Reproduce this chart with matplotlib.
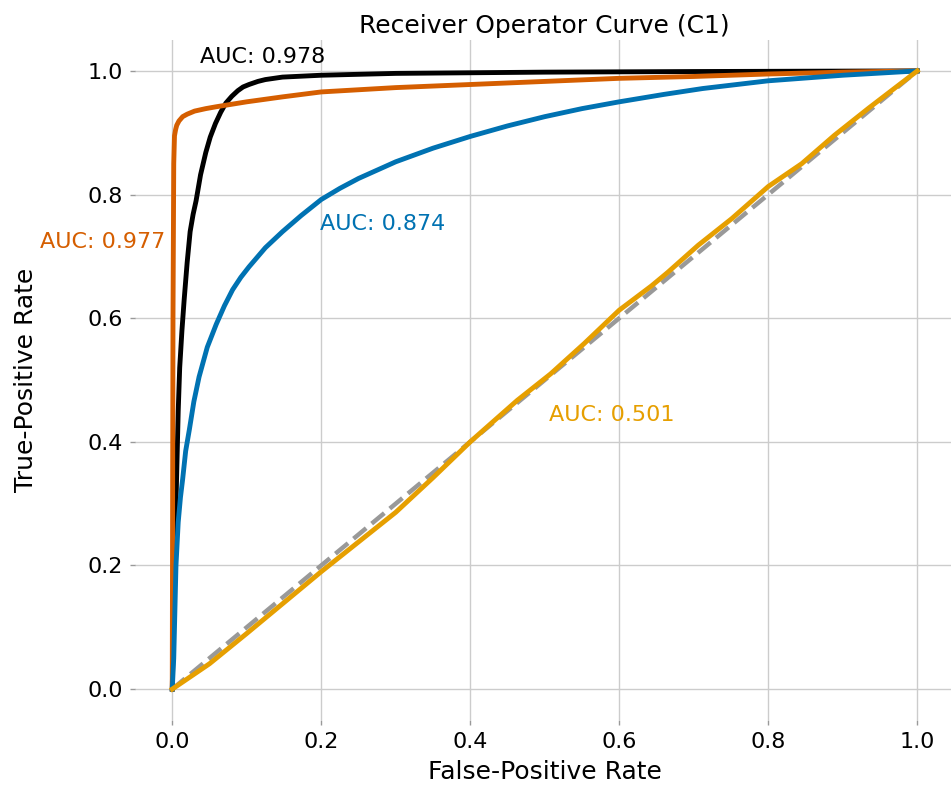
import matplotlib
matplotlib.use("Agg")
import matplotlib.pyplot as plt

plt.rcParams['font.family'] = ['DejaVu Sans']

# ROC curve data (FPR, TPR)
black_fpr = [0, 0.003, 0.005, 0.008, 0.010, 0.013, 0.016, 0.020, 0.024, 0.028, 0.032, 0.038,
             0.045, 0.051, 0.058, 0.065, 0.072, 0.080, 0.088, 0.095, 0.103, 0.115, 0.125,
             0.148, 0.2, 0.3, 0.4, 0.5, 0.7, 1.0]
black_tpr = [0, 0.2, 0.3, 0.45, 0.52, 0.58, 0.63, 0.69, 0.74, 0.768, 0.79, 0.832,
             0.868, 0.893, 0.915, 0.933, 0.948, 0.959, 0.968, 0.974, 0.978, 0.983, 0.986,
             0.99, 0.993, 0.996, 0.997, 0.998, 0.999, 1.0]

orange_fpr = [0, 0.0005, 0.001, 0.002, 0.003, 0.0045, 0.006, 0.009, 0.014, 0.02, 0.03, 0.045,
              0.059, 0.1, 0.148, 0.2, 0.3, 0.4, 0.5, 0.6, 0.7, 0.8, 0.9, 1.0]
orange_tpr = [0, 0.3, 0.6, 0.85, 0.895, 0.905, 0.912, 0.919, 0.926, 0.93, 0.935, 0.939,
              0.942, 0.95, 0.958, 0.966, 0.973, 0.978, 0.983, 0.988, 0.991, 0.995, 0.998, 1.0]

blue_fpr = [0, 0.002, 0.004, 0.005, 0.008, 0.011, 0.014, 0.018, 0.023, 0.029, 0.036, 0.047,
            0.059, 0.07, 0.081, 0.092, 0.103, 0.125, 0.148, 0.173, 0.2, 0.225, 0.25, 0.3,
            0.35, 0.4, 0.45, 0.5, 0.55, 0.6, 0.66, 0.712, 0.8, 0.9, 1.0]
blue_tpr = [0, 0.05, 0.15, 0.2, 0.27, 0.31, 0.34, 0.385, 0.42, 0.465, 0.505, 0.553,
            0.59, 0.62, 0.646, 0.666, 0.683, 0.714, 0.74, 0.766, 0.792, 0.81, 0.826, 0.853,
            0.875, 0.894, 0.911, 0.926, 0.939, 0.95, 0.962, 0.9715, 0.984, 0.993, 1.0]

yellow_fpr = [0, 0.05, 0.1, 0.15, 0.2, 0.25, 0.3, 0.35, 0.4, 0.463, 0.508, 0.553, 0.6, 0.643,
              0.665, 0.706, 0.751, 0.8, 0.845, 0.889, 0.935, 1.0]
yellow_tpr = [0, 0.041, 0.09, 0.14, 0.19, 0.238, 0.286, 0.342, 0.4, 0.467, 0.51, 0.559, 0.613,
              0.652, 0.674, 0.718, 0.761, 0.813, 0.85, 0.896, 0.94, 1.0]

auc_labels = ["AUC: 0.978", "AUC: 0.977", "AUC: 0.874", "AUC: 0.501"]
ticks = [0.0, 0.2, 0.4, 0.6, 0.8, 1.0]
tick_labels = ["0.0", "0.2", "0.4", "0.6", "0.8", "1.0"]

c_black = "#000000"
c_orange = "#D55E00"
c_blue = "#0072B2"
c_yellow = "#E69F00"

fig = plt.figure(figsize=(9.51, 7.87), dpi=100)
ax = fig.add_axes([135 / 951, 67 / 787, (954.5 - 135) / 951, 680 / 787])

ax.plot([0, 1], [0, 1], linestyle='--', color='#999999', lw=3.2, zorder=2)
ax.plot(black_fpr, black_tpr, color=c_black, lw=3.5, zorder=3, solid_joinstyle='round')
ax.plot(orange_fpr, orange_tpr, color=c_orange, lw=3.5, zorder=4, solid_joinstyle='round')
ax.plot(blue_fpr, blue_tpr, color=c_blue, lw=3.5, zorder=5, solid_joinstyle='round')
ax.plot(yellow_fpr, yellow_tpr, color=c_yellow, lw=3.5, zorder=6, solid_joinstyle='round')

fs_lab = 16
ax.text(0.0366, 1.022, auc_labels[0], color=c_black, fontsize=fs_lab, ha='left', va='center')
ax.text(-0.178, 0.724, auc_labels[1], color=c_orange, fontsize=fs_lab, ha='left', va='center')
ax.text(0.198, 0.753, auc_labels[2], color=c_blue, fontsize=fs_lab, ha='left', va='center')
ax.text(0.506, 0.444, auc_labels[3], color=c_yellow, fontsize=fs_lab, ha='left', va='center')

ax.set_xlim(-0.05, 1.05)
ax.set_ylim(-0.05, 1.05)
ax.set_xticks(ticks)
ax.set_xticklabels(tick_labels)
ax.set_yticks(ticks)
ax.set_yticklabels(tick_labels)
ax.tick_params(axis='both', labelsize=16, color='#999999', length=3.5, width=1, pad=5)
for s in ax.spines.values():
    s.set_visible(False)
ax.grid(True, color='#cccccc', lw=1)
ax.set_axisbelow(True)

ax.set_title("Receiver Operator Curve (C1)", fontsize=18, pad=5)
ax.set_xlabel("False-Positive Rate", fontsize=18, labelpad=6)
ax.set_ylabel("True-Positive Rate", fontsize=18)
ax.yaxis.set_label_coords(-0.118, 0.5)

fig.savefig("out.png", dpi=100)
